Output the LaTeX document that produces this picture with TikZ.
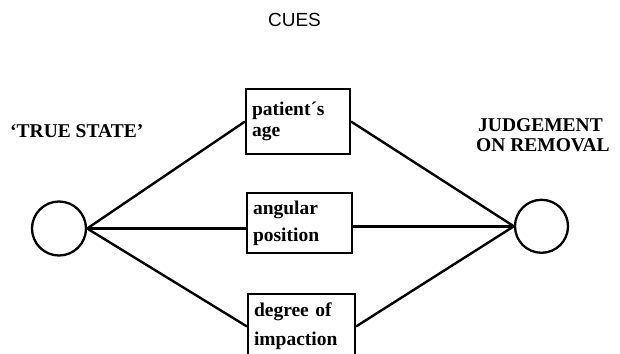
\documentclass[tikz,border=0pt]{standalone}
\usepackage{fontspec}
\setmainfont{Liberation Serif}
\setsansfont{Liberation Sans}
\begin{document}
\begin{tikzpicture}[x=1pt,y=-1pt,
  state/.style={circle, draw, line width=2.3pt, minimum size=54pt, inner sep=0pt},
  cue/.style={draw, line width=2pt, rectangle, align=left, inner xsep=6pt, inner ysep=0pt,
    font=\bfseries\fontsize{19.5}{21}\selectfont, anchor=north west},
  lbl/.style={font=\bfseries\fontsize{19.5}{19.5}\selectfont, anchor=base west, inner sep=0pt},
  link/.style={line width=2.4pt}]
\useasboundingbox (0,0) rectangle (620,353);
\fill[white] (0,0) rectangle (620,353);
\begin{scope}
\clip (0,0) rectangle (620,353);
\node[cue, minimum width=104pt, minimum height=65pt, text width=92pt] (age) at (245,88) {patient´s\\age};
\node[cue, minimum width=105pt, minimum height=60pt, text width=93pt] (ang) at (246,192) {angular\\[6pt]position};
\node[cue, minimum width=107pt, minimum height=65pt, text width=95pt] (deg) at (247,293) {degree of\\[8pt]impaction};
\node[state] (T) at (59,228.5) {};
\node[state, minimum size=53pt] (J) at (541.5,226.3) {};
\draw[link] (T.east) -- (age.west);
\draw[link] (T.east) -- (T.east -| ang.west);
\draw[link] (T.east) -- (deg.west);
\draw[link] (age.east) -- (J.west);
\draw[link] (ang.east |- J.west) -- (J.west);
\draw[link] (deg.east) -- (J.west);
\end{scope}
\node[font=\sffamily\fontsize{19}{19}\selectfont, anchor=base, inner sep=0pt] (cues) at (294.5,27) {CUES};
\node[lbl] (ts) at (10,137) {`TRUE STATE'};
\node[lbl] (j1) at (478,131) {JUDGEMENT};
\node[lbl] (j2) at (476,151) {ON REMOVAL};
\end{tikzpicture}
\end{document}
